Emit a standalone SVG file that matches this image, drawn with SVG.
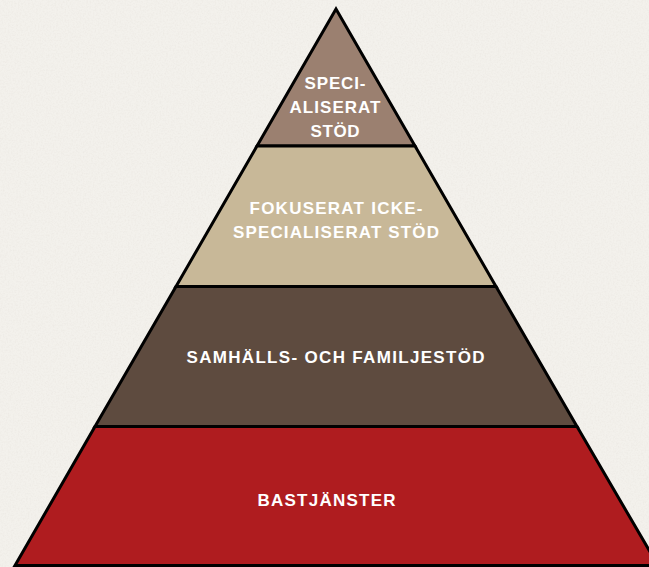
<svg xmlns="http://www.w3.org/2000/svg" width="649" height="567" viewBox="0 0 649 567">
  <defs>
    <filter id="paper" x="0" y="0" width="100%" height="100%">
      <feTurbulence type="fractalNoise" baseFrequency="0.6" numOctaves="3" seed="4" result="n"/>
      <feColorMatrix type="matrix" values="0 0 0 0 0.55  0 0 0 0 0.5  0 0 0 0 0.45  0 0 0 0.9 -0.35" result="m"/>
      <feComposite in="m" in2="SourceGraphic" operator="in"/>
    </filter>
    <style>
      .band { stroke: #000; stroke-width: 3; stroke-linejoin: miter; }
      .lbl { font-family: "Liberation Sans", Arial, sans-serif; font-weight: bold; font-size: 17px; fill: #ffffff; text-anchor: middle; }
    </style>
  </defs>
  <rect width="649" height="567" fill="#f3f1ec"/>
  <rect width="649" height="567" fill="#f3f1ec" filter="url(#paper)" opacity="0.25"/>

  <g id="node-specialiserat">
    <polygon class="band" fill="#9b8070" points="336,9 415,146 257,146"/>
    <text class="lbl" x="335" y="89" textLength="61" lengthAdjust="spacing">SPECI-</text>
    <text class="lbl" x="335" y="113" textLength="91" lengthAdjust="spacing">ALISERAT</text>
    <text class="lbl" x="335" y="137" textLength="49" lengthAdjust="spacing">STÖD</text>
  </g>

  <g id="node-fokuserat">
    <polygon class="band" fill="#c8b898" points="257,146 415,146 496,286.5 176,286.5"/>
    <text class="lbl" x="336" y="214" textLength="173" lengthAdjust="spacing">FOKUSERAT ICKE-</text>
    <text class="lbl" x="336" y="238" textLength="206" lengthAdjust="spacing">SPECIALISERAT STÖD</text>
  </g>

  <g id="node-samhalls">
    <polygon class="band" fill="#5e4b3f" points="176,286.5 496,286.5 577,426.5 95,426.5"/>
    <text class="lbl" x="335.5" y="363" textLength="298" lengthAdjust="spacing">SAMHÄLLS- OCH FAMILJESTÖD</text>
  </g>

  <g id="node-bastjanster">
    <polygon class="band" fill="#af1c1f" points="95,426.5 577,426.5 658,565.5 15,565.5"/>
    <text class="lbl" x="326.5" y="505.5" textLength="138" lengthAdjust="spacing">BASTJÄNSTER</text>
  </g>

  <g id="connectors"/>
</svg>
